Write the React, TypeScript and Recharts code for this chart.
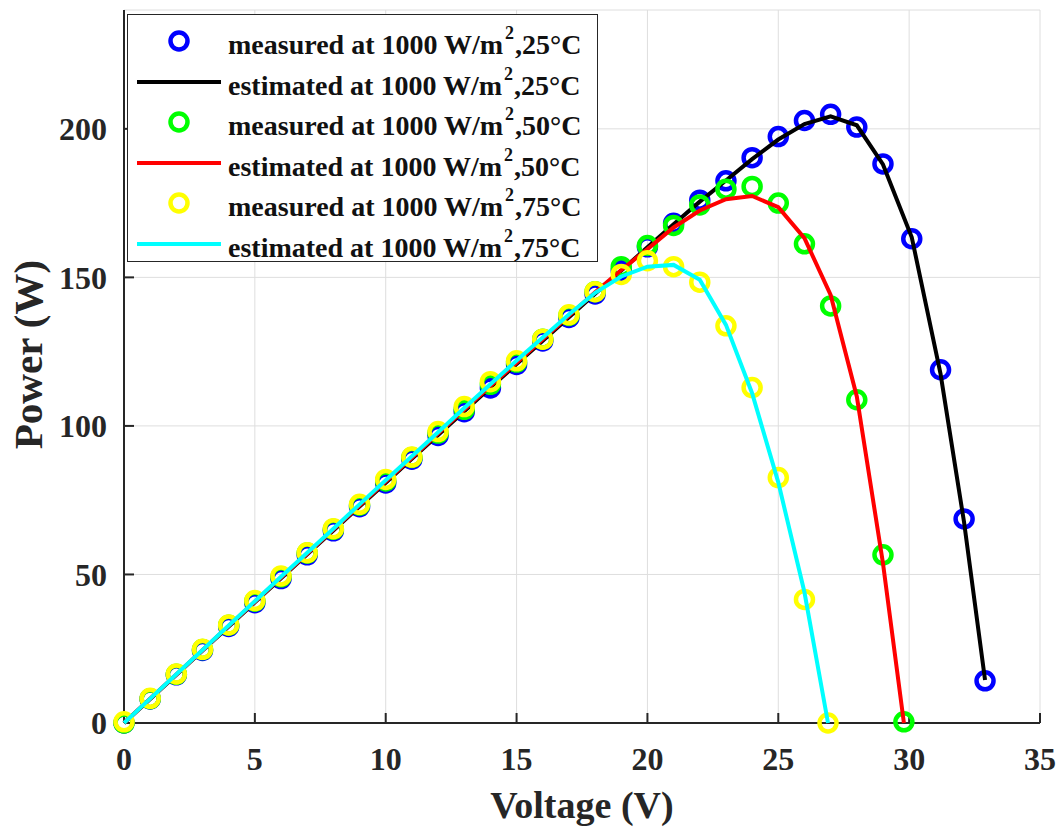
import React from 'react';
import { ComposedChart, Line, Scatter, XAxis, YAxis, CartesianGrid, Label } from 'recharts';

document.body.style.margin = '0';

// Voltage points (V) for each temperature
const voltages25 = [0, 1, 2, 3, 4, 5, 6, 7, 8, 9, 10, 11, 12, 13, 14, 15, 16, 17, 18, 19, 20, 21, 22, 23, 24, 25, 26, 27, 28, 29, 30.1, 31.2, 32.1, 32.9];
const voltages50 = [0, 1, 2, 3, 4, 5, 6, 7, 8, 9, 10, 11, 12, 13, 14, 15, 16, 17, 18, 19, 20, 21, 22, 23, 24, 25, 26, 27, 28, 29, 29.8];
const voltages75 = [0, 1, 2, 3, 4, 5, 6, 7, 8, 9, 10, 11, 12, 13, 14, 15, 16, 17, 18, 19, 20, 21, 22, 23, 24, 25, 26, 26.9];

// Power (W)
const measured25 = [0, 8.1, 16.2, 24.4, 32.5, 40.5, 48.6, 56.6, 64.7, 72.8, 80.8, 88.8, 96.8, 104.8, 112.8, 120.7, 128.6, 136.5, 144.4, 152.3, 160.3, 168.2, 176, 182.5, 190.3, 197.4, 202.8, 204.9, 200.6, 188.2, 163, 118.9, 68.7, 14.2];
const estimated25 = [0, 8.1, 16.2, 24.4, 32.5, 40.6, 48.7, 56.8, 64.8, 72.9, 80.9, 88.9, 96.9, 104.9, 112.9, 120.8, 128.7, 136.6, 144.5, 152.3, 160.1, 167.9, 175.5, 182.6, 189.8, 196.4, 201.6, 204.2, 201.2, 188, 163.5, 117.5, 67.5, 14.5];
const measured50 = [0, 8.2, 16.4, 24.7, 32.9, 41, 49.2, 57.2, 65.2, 73.3, 81.5, 89.4, 97.6, 105.6, 114, 121.5, 129.2, 137.2, 145.2, 153.6, 160.7, 167.5, 174.4, 179.7, 180.6, 175, 161.3, 140.4, 108.8, 56.6, 0.4];
const estimated50 = [0, 8.2, 16.3, 24.5, 32.7, 40.8, 49, 57, 65.1, 73.2, 81.3, 89.3, 97.4, 105.4, 113.4, 121.3, 129.2, 137.1, 145, 152.5, 159.5, 166.8, 172.5, 176.3, 177.4, 173.6, 163.2, 144.1, 109.9, 53.8, 0];
const measured75 = [0.4, 8.3, 16.5, 24.8, 33, 41.2, 49.5, 57.3, 65.4, 73.6, 82, 89.5, 98.1, 106.5, 114.9, 121.9, 129.2, 137.4, 145.2, 151, 155.6, 153.6, 148.4, 133.7, 112.9, 82.6, 41.6, 0];
const estimated75 = [0, 8.2, 16.4, 24.6, 32.8, 41, 49.2, 57.3, 65.4, 73.6, 81.7, 89.8, 97.9, 106, 114, 122, 129.8, 137.5, 144.8, 150.3, 153.6, 154.2, 149.2, 134, 111, 81, 44, 0];

const xTicks = [0, 5, 10, 15, 20, 25, 30, 35];
const yTicks = [0, 50, 100, 150, 200];

const legendItems = [
    { kind: 'marker', color: '#0000ff', text: 'measured at 1000 W/m', temp: ',25°C' },
    { kind: 'line', color: '#000000', text: 'estimated at 1000 W/m', temp: ',25°C' },
    { kind: 'marker', color: '#00ff00', text: 'measured at 1000 W/m', temp: ',50°C' },
    { kind: 'line', color: '#ff0000', text: 'estimated at 1000 W/m', temp: ',50°C' },
    { kind: 'marker', color: '#ffff00', text: 'measured at 1000 W/m', temp: ',75°C' },
    { kind: 'line', color: '#00ffff', text: 'estimated at 1000 W/m', temp: ',75°C' },
];

const toPoints = (vs: number[], ps: number[]) => vs.map((v, i) => ({ v, p: ps[i] }));

const FONT = '"Liberation Serif", "Times New Roman", serif';
const AXIS_COLOR = '#262626';

const ring = (color: string) => (props: any) => (
    <circle cx={props.cx} cy={props.cy} r={8.5} fill="none" stroke={color} strokeWidth={4.5} />
);

const tickStyle = { fontFamily: FONT, fontWeight: 'bold', fontSize: 32, fill: AXIS_COLOR };

export default function App() {
    const m25 = toPoints(voltages25, measured25);
    const e25 = toPoints(voltages25, estimated25);
    const m50 = toPoints(voltages50, measured50);
    const e50 = toPoints(voltages50, estimated50);
    const m75 = toPoints(voltages75, measured75);
    const e75 = toPoints(voltages75, estimated75);

    return (
        <div style={{ position: 'relative', width: 1064, height: 832, background: '#fff' }}>
            <ComposedChart width={1064} height={832} margin={{ top: 10, right: 24, bottom: 0, left: 0 }}>
                <CartesianGrid stroke="#dedede" strokeWidth={1} />
                <XAxis
                    dataKey="v"
                    type="number"
                    domain={[0, 35]}
                    ticks={xTicks}
                    height={109}
                    tickSize={-10}
                    tickMargin={34}
                    tick={tickStyle}
                    axisLine={{ stroke: AXIS_COLOR, strokeWidth: 2 }}
                    tickLine={{ stroke: AXIS_COLOR, strokeWidth: 2 }}
                >
                    <Label
                        content={(props: any) => {
                            const vb = props.viewBox;
                            return (
                                <text x={vb.x + vb.width / 2} y={vb.y + 95} textAnchor="middle"
                                    style={{ fontFamily: FONT, fontWeight: 'bold', fontSize: 38, fill: AXIS_COLOR }}>
                                    Voltage (V)
                                </text>
                            );
                        }}
                    />
                </XAxis>
                <XAxis
                    xAxisId="top"
                    orientation="top"
                    type="number"
                    domain={[0, 35]}
                    ticks={xTicks}
                    height={0}
                    tick={false}
                    tickSize={-10}
                    axisLine={{ stroke: AXIS_COLOR, strokeWidth: 2 }}
                    tickLine={{ stroke: AXIS_COLOR, strokeWidth: 2 }}
                />
                <YAxis
                    dataKey="p"
                    type="number"
                    domain={[0, 240]}
                    ticks={yTicks}
                    width={124}
                    tickSize={-10}
                    tickMargin={27}
                    tick={tickStyle}
                    axisLine={{ stroke: AXIS_COLOR, strokeWidth: 2 }}
                    tickLine={{ stroke: AXIS_COLOR, strokeWidth: 2 }}
                >
                    <Label
                        content={(props: any) => {
                            const vb = props.viewBox;
                            const cy = vb.y + vb.height / 2 - 12;
                            return (
                                <text x={28} y={cy} textAnchor="middle" dominantBaseline="central"
                                    transform={`rotate(-90, 28, ${cy})`}
                                    style={{ fontFamily: FONT, fontWeight: 'bold', fontSize: 41, fill: AXIS_COLOR }}>
                                    Power (W)
                                </text>
                            );
                        }}
                    />
                </YAxis>
                <YAxis
                    yAxisId="right"
                    orientation="right"
                    type="number"
                    domain={[0, 240]}
                    ticks={yTicks}
                    width={0}
                    tick={false}
                    tickSize={-10}
                    axisLine={{ stroke: AXIS_COLOR, strokeWidth: 2 }}
                    tickLine={{ stroke: AXIS_COLOR, strokeWidth: 2 }}
                />

                <Scatter data={m25} dataKey="p" shape={ring('#0000ff')} isAnimationActive={false} zIndex={601} />
                <Line data={e25} dataKey="p" type="linear" stroke="#000000" strokeWidth={4} dot={false} isAnimationActive={false} zIndex={602} />
                <Scatter data={m50} dataKey="p" shape={ring('#00ff00')} isAnimationActive={false} zIndex={603} />
                <Line data={e50} dataKey="p" type="linear" stroke="#ff0000" strokeWidth={4} dot={false} isAnimationActive={false} zIndex={604} />
                <Scatter data={m75} dataKey="p" shape={ring('#ffff00')} isAnimationActive={false} zIndex={605} />
                <Line data={e75} dataKey="p" type="linear" stroke="#00ffff" strokeWidth={4} dot={false} isAnimationActive={false} zIndex={606} />
            </ComposedChart>

            {/* Legend box */}
            <div
                style={{
                    position: 'absolute',
                    left: 127,
                    top: 14,
                    width: 471,
                    height: 248,
                    boxSizing: 'border-box',
                    border: `1.5px solid ${AXIS_COLOR}`,
                    background: '#fff',
                    paddingTop: 6,
                }}
            >
                {legendItems.map((item, i) => (
                    <div key={i} style={{ display: 'flex', alignItems: 'center', height: 40.5 }}>
                        <svg width={100} height={40} style={{ flexShrink: 0 }}>
                            {item.kind === 'marker' ? (
                                <circle cx={51} cy={20} r={8.5} fill="none" stroke={item.color} strokeWidth={4.5} />
                            ) : (
                                <line x1={9} x2={93} y1={20} y2={20} stroke={item.color} strokeWidth={4} />
                            )}
                        </svg>
                        <span
                            style={{
                                fontFamily: FONT,
                                fontWeight: 'bold',
                                fontSize: 28,
                                color: '#111',
                                whiteSpace: 'nowrap',
                                lineHeight: '40px',
                                marginTop: 8,
                            }}
                        >
                            {item.text}
                            <sup style={{ fontSize: 18, lineHeight: 0, verticalAlign: 0, position: 'relative', top: -15, marginLeft: 2, marginRight: 1 }}>2</sup>
                            {item.temp}
                        </span>
                    </div>
                ))}
            </div>
        </div>
    );
}
